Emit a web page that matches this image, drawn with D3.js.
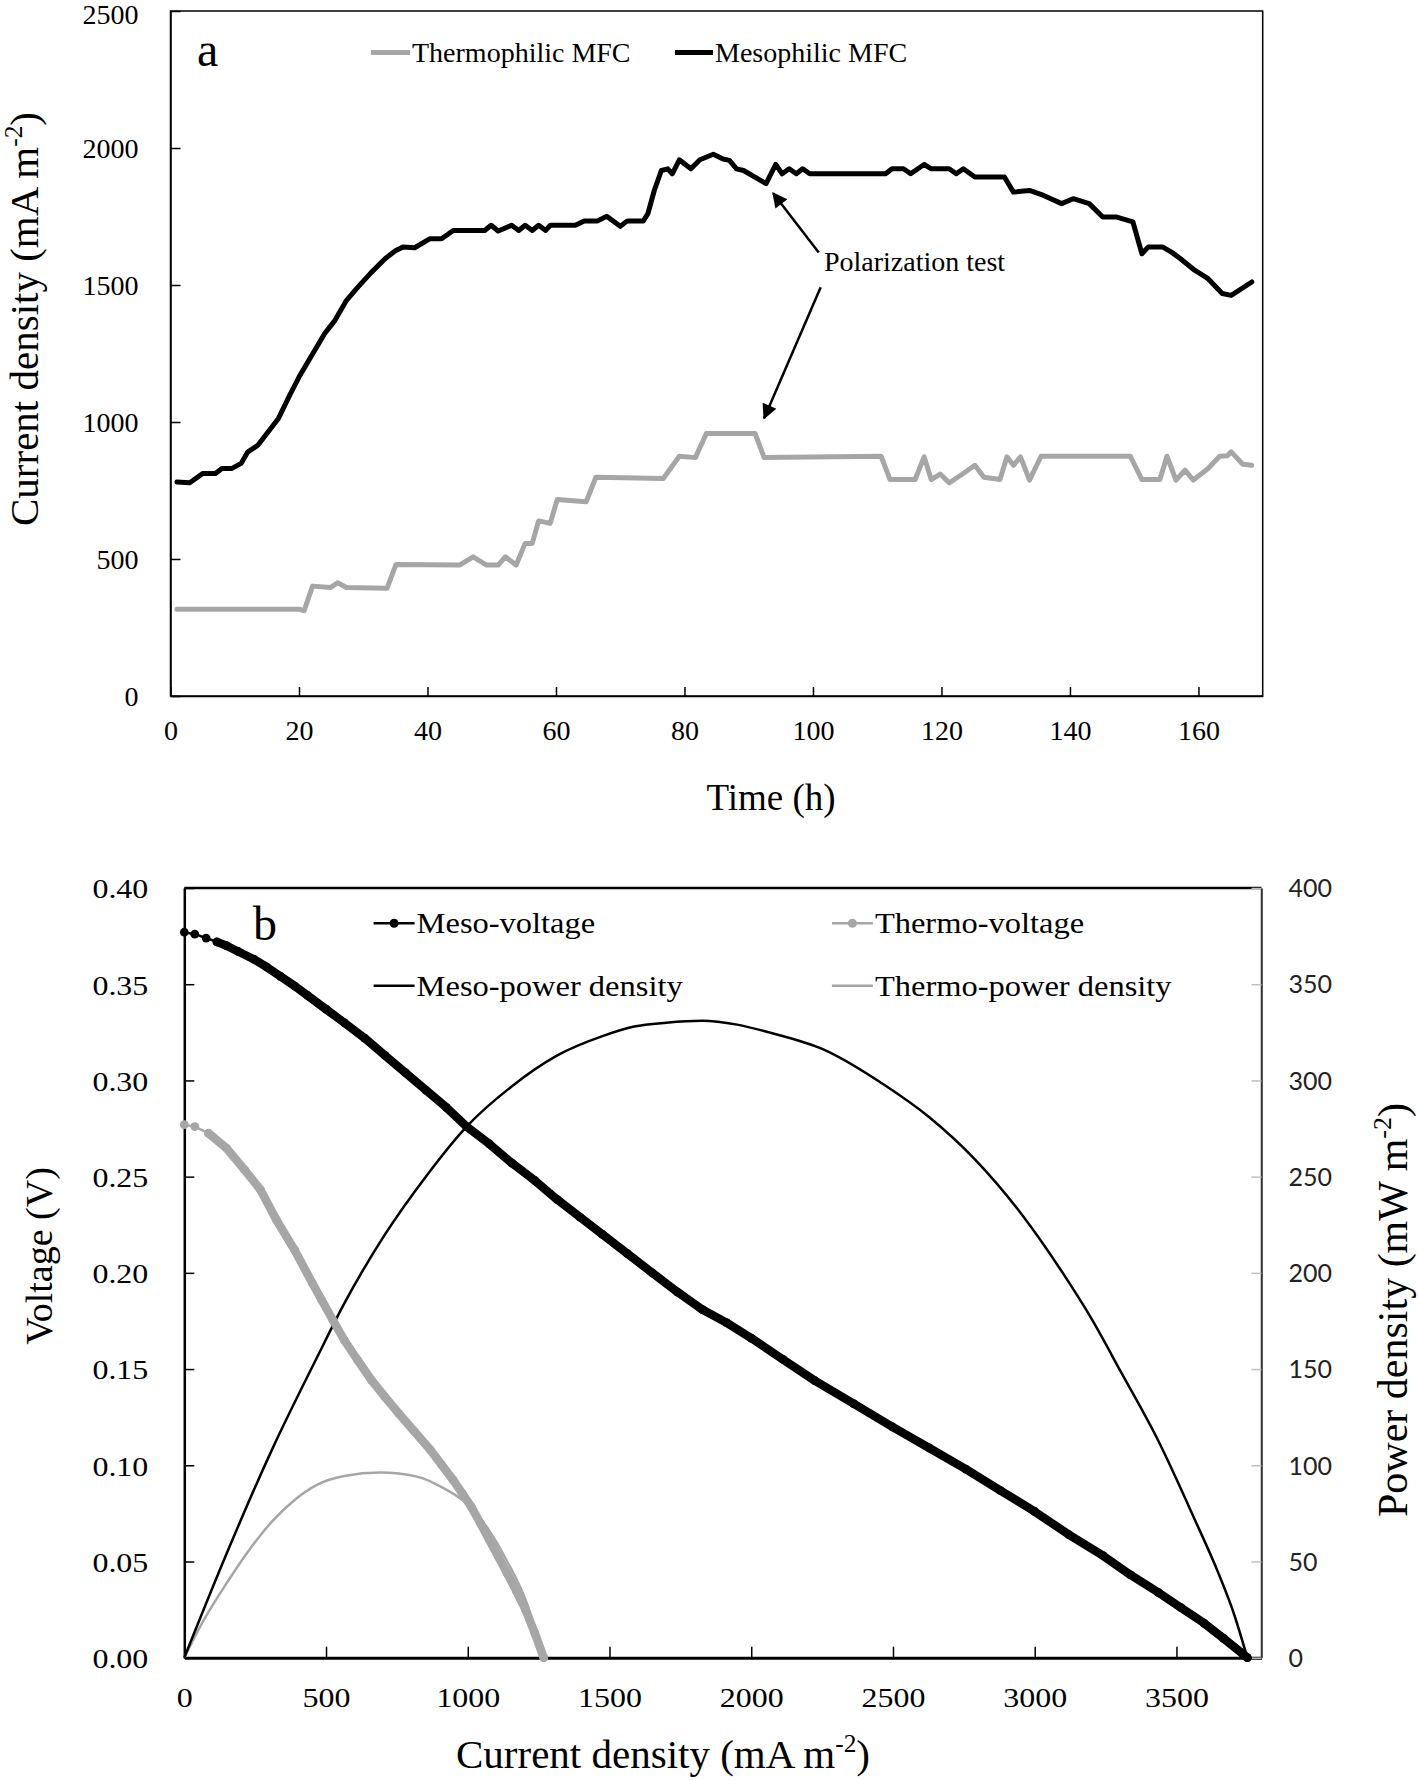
<!DOCTYPE html>
<html><head><meta charset="utf-8">
<script src="https://cdn.jsdelivr.net/npm/d3@7"></script>
<style>body{margin:0;background:#fff}svg{display:block}</style>
</head><body>
<svg id="c" width="1418" height="1780"></svg>
<script>
// ---------- Panel a data ----------
const timeTicks = [0,20,40,60,80,100,120,140,160];
const currentTicks = [0,500,1000,1500,2000,2500];
const thermoTime = [1,20,20.8,22.1,24.9,26,27.4,33.7,35.1,45,47.1,49.2,51,52.1,53.8,55.2,56.3,57.3,59.1,60.2,64.7,66.2,76.7,79.2,81.7,83.4,91,92.4,110.6,112,115.9,117.3,118.4,119.8,121.2,123.4,125.2,126.6,129.1,130.2,131.2,132.3,133.7,135.5,149.4,151.2,154,155.1,156.5,157.9,159.2,161.5,163.3,164.5,165.1,166.9,168.3];
const thermoCurrent = [317,317,311,401,396,413,396,393,480,478,508,478,478,508,478,557,557,639,630,717,709,798,794,875,870,958,958,870,875,790,790,873,790,810,778,812,842,798,790,873,842,873,788,875,875,790,790,875,788,824,788,830,875,877,891,846,842];
const mesoTime = [1,3,5,7,8,9.5,11,12,13.6,15,16.8,18.6,20,22,24,25.6,27.4,29.2,31.3,33.4,35,36.2,38,40.4,42.2,44,48.9,49.9,51,53.1,54.2,55.2,56.3,57.3,58.4,59.1,63,64.4,66.5,67.9,70,71.1,73.6,74.3,75.3,76.4,77.4,78.1,79.2,81,82.4,84.5,86,87,88.1,89.2,92.7,94.2,95.2,96.3,97.4,98.4,99.5,111.3,112.3,114.1,115.2,117.3,118.4,121.2,122.3,123.4,125.2,129.8,131.2,133.7,135.9,138.7,140.5,143,145.1,147.3,149.8,151.2,152.2,154.4,155.8,157.2,159.4,161.5,163.7,165.1,168.3];
const mesoCurrent = [781,778,812,812,830,830,849,890,915,958,1013,1100,1164,1244,1323,1371,1444,1493,1547,1596,1625,1639,1636,1669,1669,1699,1699,1718,1697,1718,1699,1718,1699,1718,1699,1718,1718,1734,1734,1751,1714,1734,1734,1760,1845,1918,1924,1906,1957,1924,1957,1977,1960,1955,1924,1918,1870,1940,1906,1924,1906,1924,1906,1906,1924,1924,1906,1940,1924,1924,1906,1924,1894,1894,1839,1845,1827,1797,1815,1797,1748,1748,1730,1614,1639,1639,1620,1596,1554,1523,1469,1462,1511];
const seriesA = ["Thermophilic MFC","Mesophilic MFC"];
const annotationText = "Polarization test";
const annotLabel = [101.7, 1583];
const arrowTails = [[100.9,1619],[101.2,1492]];
const arrowTips = [[93.8,1835],[92.4,1014]];

// ---------- Panel b data ----------
const densityTicks = [0,500,1000,1500,2000,2500,3000,3500];
const voltageTicks = [0,0.05,0.10,0.15,0.20,0.25,0.30,0.35,0.40];
const powerTicks = [0,50,100,150,200,250,300,350,400];
const mesoVI = [0,37,77,115,149,190,245,290,340,390,436,500,564,636,708,780,852,924,996,1076,1156,1236,1316,1396,1475,1563,1651,1740,1827,1914,2001,2112,2224,2361,2498,2628,2757,2878,2999,3120,3241,3338,3435,3516,3597,3666,3734,3750];
const mesoV = [0.377,0.376,0.374,0.372,0.370,0.367,0.363,0.359,0.354,0.349,0.344,0.337,0.330,0.322,0.313,0.304,0.295,0.286,0.276,0.267,0.257,0.248,0.238,0.229,0.220,0.210,0.200,0.190,0.181,0.174,0.166,0.155,0.144,0.132,0.120,0.109,0.098,0.087,0.076,0.064,0.053,0.043,0.034,0.026,0.018,0.010,0.002,0.000];
const mesoPI = [0,149,309,468,564,708,852,996,1156,1316,1475,1587,1700,1827,1950,2062,2256,2466,2627,2789,2951,3112,3193,3306,3435,3564,3645,3700,3750];
const mesoP = [0,54,108,156,184,220,250,276,297,313,323,328,330,331,329,325,316,298,281,259,231,197,178,148,113,72,45,24,0];
const thermoVI = [0,37,85,149,213,269,325,389,452,484,524,564,612,660,708,756,812,868,908,948,980,1012,1044,1076,1108,1139,1172,1204,1236,1268];
const thermoV = [0.277,0.276,0.2726,0.2648,0.2535,0.2431,0.2275,0.2119,0.1946,0.186,0.1755,0.1651,0.1545,0.1443,0.1355,0.127,0.1175,0.108,0.1002,0.0924,0.0855,0.0785,0.0700,0.0612,0.0525,0.0439,0.0345,0.0248,0.0130,0];
const thermoPI = [0,69,149,229,309,389,468,564,692,820,916,980,1076,1139,1204,1268];
const thermoP = [0,19.6,38.7,56,70.7,82,89.8,94.4,96.2,94.1,88,82,66,50,30,0];
const seriesB = ["Meso-voltage","Thermo-voltage","Meso-power density","Thermo-power density"];

// ---------- helpers ----------
const svg = d3.select("#c");
const SERIF = "'Liberation Serif','Times New Roman',serif";
const GRAY = "#a6a6a6";
function zip(a,b){return a.map((v,i)=>[v,b[i]]);}
function stretch(sel,k){sel.each(function(){const w=this.getComputedTextLength();this.setAttribute("textLength",(w*k).toFixed(1));this.setAttribute("lengthAdjust","spacingAndGlyphs");});}
function addUnitTitle(g, pre, unit, sup, size){
  const t=g.append("text").attr("font-family",SERIF).attr("font-size",size).attr("fill","#000").attr("text-anchor","middle");
  t.append("tspan").text(pre+" ("+unit);
  t.append("tspan").attr("dy",-size*0.38).attr("font-size",size*0.62).text(sup);
  t.append("tspan").attr("dy",size*0.38).text(")");
  return t;
}

// defs arrow
svg.append("defs").append("marker").attr("id","ah").attr("viewBox","0 0 10 10").attr("refX",9).attr("refY",5)
  .attr("markerWidth",7).attr("markerHeight",6).attr("markerUnits","strokeWidth").attr("orient","auto")
  .append("path").attr("d","M0,0L10,5L0,10z").attr("fill","#000");

// ================= Panel a =================
const A = {l:170.5,r:1262.7,t:11,b:696};
const xa = d3.scaleLinear().domain([0,170]).range([A.l,A.r]);
const ya = d3.scaleLinear().domain([0,2500]).range([A.b,A.t]);
const ga = svg.append("g");
ga.append("rect").attr("x",A.l).attr("y",A.t).attr("width",A.r-A.l).attr("height",A.b-A.t).attr("fill","none").attr("stroke","#000").attr("stroke-width",1.5);
const axA = ga.append("g").attr("transform",`translate(0,${A.b})`).call(d3.axisBottom(xa).tickValues(timeTicks).tickSize(-9).tickSizeOuter(0).tickFormat(d3.format("d")));
axA.select(".domain").attr("stroke-width",1.5);
axA.selectAll(".tick line").attr("stroke-width",1.5);
axA.selectAll("text").attr("y",44).attr("dy",null).attr("font-family",SERIF).attr("font-size",28).attr("fill","#000");
const ayA = ga.append("g").attr("transform",`translate(${A.l},0)`).call(d3.axisLeft(ya).tickValues(currentTicks).tickSize(-10).tickSizeOuter(0).tickFormat(d3.format("d")));
ayA.select(".domain").attr("stroke-width",1.5);
ayA.selectAll(".tick line").attr("stroke-width",1.5);
ayA.selectAll("text").attr("x",-32).attr("dy",d=>d===2500?"0.45em":"0.35em").attr("font-family",SERIF).attr("font-size",28).attr("fill","#000");

const lineA = d3.line().x(d=>xa(d[0])).y(d=>ya(d[1]));
ga.append("path").datum(zip(thermoTime,thermoCurrent)).attr("d",lineA).attr("fill","none").attr("stroke",GRAY).attr("stroke-width",5).attr("stroke-linejoin","round").attr("stroke-linecap","round");
ga.append("path").datum(zip(mesoTime,mesoCurrent)).attr("d",lineA).attr("fill","none").attr("stroke","#000").attr("stroke-width",5).attr("stroke-linejoin","round").attr("stroke-linecap","round");

// legend a
ga.append("text").attr("x",197).attr("y",66).attr("font-family",SERIF).attr("font-size",48).text("a");
[[371,410,GRAY,seriesA[0]],[675,713,"#000",seriesA[1]]].forEach(([x1,x2,c,lab])=>{
  ga.append("line").attr("x1",x1).attr("x2",x2).attr("y1",52.5).attr("y2",52.5).attr("stroke",c).attr("stroke-width",5);
  ga.append("text").attr("x",x2+2).attr("y",62).attr("font-family",SERIF).attr("font-size",28).text(lab);
});
// annotation
ga.append("text").attr("x",xa(annotLabel[0])).attr("y",ya(annotLabel[1])+9).attr("font-family",SERIF).attr("font-size",28).text(annotationText);
arrowTails.forEach((t,i)=>{
  ga.append("line").attr("x1",xa(t[0])).attr("y1",ya(t[1])).attr("x2",xa(arrowTips[i][0])).attr("y2",ya(arrowTips[i][1]))
    .attr("stroke","#000").attr("stroke-width",2.5).attr("marker-end","url(#ah)");
});
// titles a
ga.append("text").attr("x",771).attr("y",810).attr("text-anchor","middle").attr("font-family",SERIF).attr("font-size",37).text("Time (h)");
addUnitTitle(ga.append("g").attr("transform",`translate(38,319) rotate(-90)`),"Current density","mA m","-2",41);

// ================= Panel b =================
const B = {l:184.3,r:1261.5,t:888,b:1657.7};
const xb = d3.scaleLinear().domain([0,3800]).range([B.l,B.r]);
const yv = d3.scaleLinear().domain([0,0.4]).range([B.b,B.t]);
const yp = d3.scaleLinear().domain([0,400]).range([B.b,B.t]);
const gb = svg.append("g");
// frame
gb.append("line").attr("x1",B.l).attr("x2",B.r).attr("y1",B.t).attr("y2",B.t).attr("stroke","#000").attr("stroke-width",2.5);
gb.append("line").attr("x1",B.r).attr("x2",B.r).attr("y1",B.t).attr("y2",B.b).attr("stroke","#333").attr("stroke-width",1.5);
const axB = gb.append("g").attr("transform",`translate(0,${B.b})`).call(d3.axisBottom(xb).tickValues(densityTicks).tickSize(-11).tickSizeOuter(0).tickFormat(d3.format("d")));
axB.select(".domain").attr("stroke-width",3);
axB.selectAll(".tick line").attr("stroke-width",1.5);
axB.selectAll("text").attr("y",49).attr("dy",null).attr("font-family",SERIF).attr("font-size",28).attr("fill","#000");
const ayB = gb.append("g").attr("transform",`translate(${B.l},0)`).call(d3.axisLeft(yv).tickValues(voltageTicks).tickSize(-10).tickSizeOuter(0).tickFormat(d3.format(".2f")));
ayB.select(".domain").attr("stroke-width",2.5);
ayB.selectAll(".tick line").attr("stroke-width",1.5);
ayB.selectAll("text").attr("x",-36).attr("dy","0.35em").attr("font-family",SERIF).attr("font-size",28).attr("fill","#000");
const ayP = gb.append("g").attr("transform",`translate(${B.r},0)`).call(d3.axisRight(yp).tickValues(powerTicks).tickSize(-10).tickSizeOuter(0).tickFormat(d3.format("d")));
ayP.select(".domain").attr("stroke","#333").attr("stroke-width",1.5);
ayP.selectAll(".tick line").attr("stroke","#bfbfbf").attr("stroke-width",1.5);
ayP.selectAll("text").attr("x",27).attr("dy","0.35em").attr("font-family","Lato,'Open Sans',sans-serif").attr("font-size",25).attr("fill","#222");

// power lines
const lineP = d3.line().x(d=>xb(d[0])).y(d=>yp(d[1])).curve(d3.curveMonotoneX);
gb.append("path").datum(zip(thermoPI,thermoP)).attr("d",lineP).attr("fill","none").attr("stroke",GRAY).attr("stroke-width",2.5);
gb.append("path").datum(zip(mesoPI,mesoP)).attr("d",lineP).attr("fill","none").attr("stroke","#000").attr("stroke-width",2.5);
// voltage lines with markers
const lineV = d3.line().x(d=>xb(d[0])).y(d=>yv(d[1]));
function voltSeries(I,V,c,thickFrom){
  const pts = zip(I,V);
  gb.append("path").datum(pts).attr("d",lineV).attr("fill","none").attr("stroke",c).attr("stroke-width",2.5);
  gb.append("path").datum(pts.slice(thickFrom)).attr("d",lineV).attr("fill","none").attr("stroke",c).attr("stroke-width",8.5).attr("stroke-linejoin","round").attr("stroke-linecap","round");
  gb.append("g").selectAll("circle").data(pts).join("circle").attr("cx",d=>xb(d[0])).attr("cy",d=>yv(d[1])).attr("r",4.4).attr("fill",c);
}
voltSeries(thermoVI,thermoV,GRAY,2);
voltSeries(mesoVI,mesoV,"#000",3);

// legend b
gb.append("text").attr("x",253).attr("y",940).attr("font-family",SERIF).attr("font-size",48).text("b");
const legB = [
  {x:373.6,y:923.3,c:"#000",dot:true,lab:seriesB[0]},
  {x:831.9,y:923.3,c:GRAY,dot:true,lab:seriesB[1]},
  {x:373.6,y:985.7,c:"#000",dot:false,lab:seriesB[2]},
  {x:831.9,y:985.7,c:GRAY,dot:false,lab:seriesB[3]}];
legB.forEach(o=>{
  gb.append("line").attr("x1",o.x).attr("x2",o.x+41).attr("y1",o.y).attr("y2",o.y).attr("stroke",o.c).attr("stroke-width",2.5);
  if(o.dot) gb.append("circle").attr("cx",o.x+20.5).attr("cy",o.y).attr("r",4.5).attr("fill",o.c);
  gb.append("text").attr("class","legb").attr("x",o.x+43).attr("y",o.y+10).attr("font-family",SERIF).attr("font-size",29).text(o.lab);
});
// titles b
addUnitTitle(gb.append("g").attr("transform",`translate(663,1768)`),"Current density","mA m","-2",41);
gb.append("text").attr("transform",`translate(52,1256) rotate(-90)`).attr("text-anchor","middle").attr("font-family",SERIF).attr("font-size",38).text("Voltage (V)");
addUnitTitle(gb.append("g").attr("transform",`translate(1407,1310) rotate(-90)`),"Power density","mW m","-2",42);

// horizontal stretch of panel-b small text (source figure is widened)
stretch(axB.selectAll("text"),1.14);
stretch(ayB.selectAll("text"),1.14);
stretch(gb.selectAll("text.legb"),1.12);
</script>
</body></html>
